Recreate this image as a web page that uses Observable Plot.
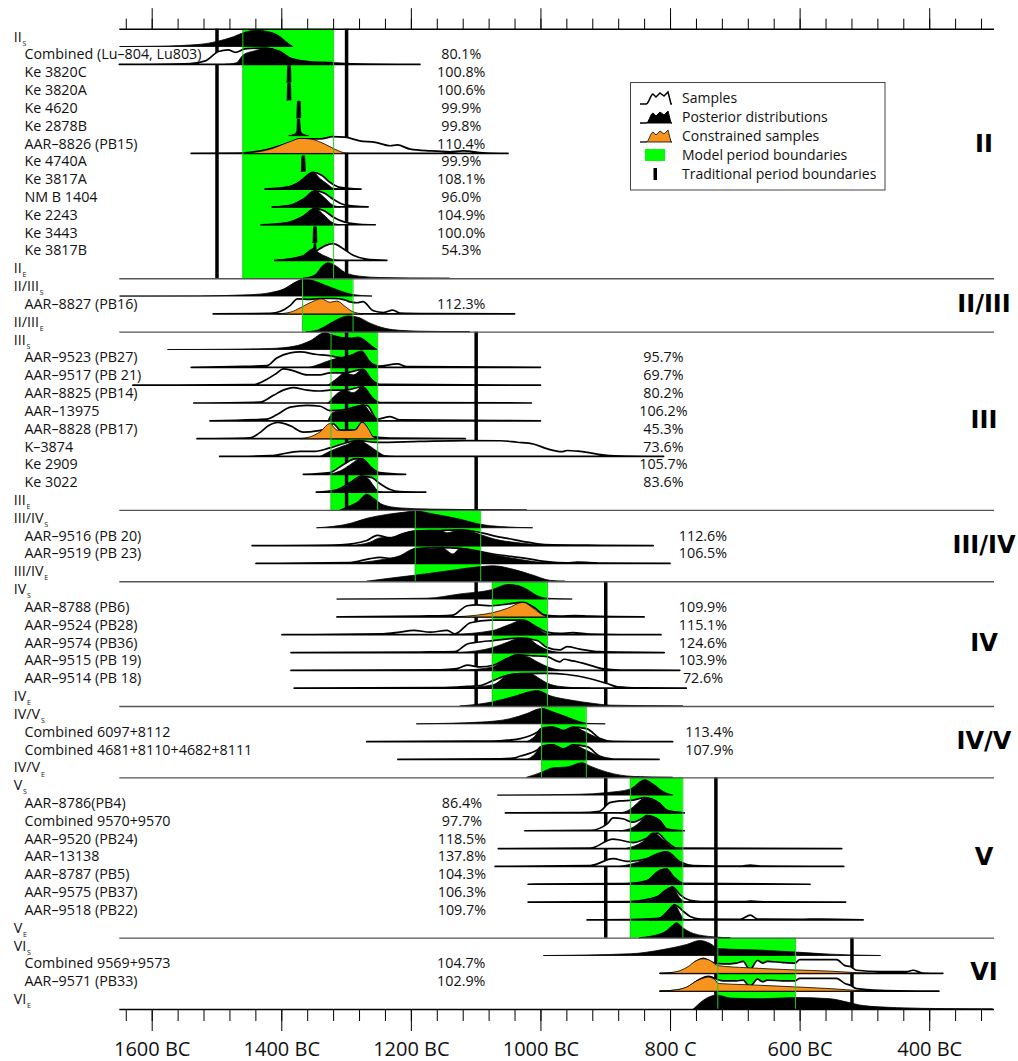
<!DOCTYPE html>
<html><head><meta charset="utf-8">
<script src="https://cdn.jsdelivr.net/npm/d3@7"></script>
<script src="https://cdn.jsdelivr.net/npm/@observablehq/plot@0.6"></script>
<style>
body{margin:0;background:#fff;}
#wrap{position:relative;width:1018px;height:1061px;}
#wrap svg{font-family:"Open Sans",sans-serif;}
</style></head><body><div id="wrap"></div>
<script>
// ---------- DATA ----------
const rowNames = [
 "II_S","Combined (Lu–804, Lu803)","Ke 3820C","Ke 3820A","Ke 4620","Ke 2878B","AAR–8826 (PB15)","Ke 4740A","Ke 3817A","NM B 1404","Ke 2243","Ke 3443","Ke 3817B","II_E",
 "II/III_S","AAR–8827 (PB16)","II/III_E",
 "III_S","AAR–9523 (PB27)","AAR–9517 (PB 21)","AAR–8825 (PB14)","AAR–13975","AAR–8828 (PB17)","K–3874","Ke 2909","Ke 3022","III_E",
 "III/IV_S","AAR–9516 (PB 20)","AAR–9519 (PB 23)","III/IV_E",
 "IV_S","AAR–8788 (PB6)","AAR–9524 (PB28)","AAR–9574 (PB36)","AAR–9515 (PB 19)","AAR–9514 (PB 18)","IV_E",
 "IV/V_S","Combined 6097+8112","Combined 4681+8110+4682+8111","IV/V_E",
 "V_S","AAR–8786(PB4)","Combined 9570+9570","AAR–9520 (PB24)","AAR–13138","AAR–8787 (PB5)","AAR–9575 (PB37)","AAR–9518 (PB22)","V_E",
 "VI_S","Combined 9569+9573","AAR–9571 (PB33)","VI_E"
];
const agreement = [
 "","80.1%","100.8%","100.6%","99.9%","99.8%","110.4%","99.9%","108.1%","96.0%","104.9%","100.0%","54.3%","",
 "","112.3%","",
 "","95.7%","69.7%","80.2%","106.2%","45.3%","73.6%","105.7%","83.6%","",
 "","112.6%","106.5%","",
 "","109.9%","115.1%","124.6%","103.9%","72.6%","",
 "","113.4%","107.9%","",
 "","86.4%","97.7%","118.5%","137.8%","104.3%","106.3%","109.7%","",
 "","104.7%","102.9%",""
];
const constrainedRows = ["AAR–8826 (PB15)","AAR–8827 (PB16)","AAR–8828 (PB17)","AAR–8788 (PB6)","Combined 9569+9573","AAR–9571 (PB33)"];

// posterior distributions, [year BC, relative density]
const posteriorCurves = [
 [[1649,0],[1590,0.02],[1525,0.13],[1499,0.3],[1474,0.57],[1459,0.8],[1438,0.95],[1422,0.88],[1407,0.7],[1397,0.43],[1390,0.2],[1382,0]],
 [[1486,0],[1469,0.1],[1459,0.55],[1440,0.8],[1422,0.95],[1410,0.85],[1397,0.6],[1382,0.3],[1364,0.15],[1340,0.05],[1320,0]],
 [[1391,0],[1390,0.96],[1386,0.96],[1385,0]],
 [[1391,0],[1390,0.96],[1386,0.96],[1385,0]],
 [[1376,0],[1375,0.97],[1371,0.97],[1370,0]],
 [[1388,0],[1380,0.08],[1376,0.25],[1375,0.97],[1372,0.97],[1370,0.25],[1366,0.08],[1358,0]],
 [[1459,0],[1417,0.25],[1386,0.7],[1371,0.88],[1356,0.85],[1333,0.55],[1320,0.3],[1304,0.05],[1294,0]],
 [[1369,0],[1368,0.9],[1364,0.9],[1363,0]],
 [[1425,0],[1394,0.1],[1371,0.45],[1351,0.98],[1340,0.6],[1329,0.3],[1320,0.05],[1312,0]],
 [[1414,0],[1386,0.1],[1366,0.45],[1348,0.94],[1335,0.6],[1320,0.1],[1309,0]],
 [[1431,0],[1394,0.1],[1366,0.5],[1348,0.96],[1335,0.6],[1320,0.1],[1309,0]],
 [[1351,0],[1350,0.92],[1346,0.92],[1345,0]],
 [[1407,0],[1379,0.15],[1366,0.3],[1356,0.6],[1350,0.75],[1349,1.0],[1347,1.0],[1346,0.6],[1340,0.4],[1329,0.2],[1320,0.05],[1309,0]],
 [[1366,0],[1348,0.2],[1337,0.7],[1328,0.9],[1317,0.75],[1302,0.35],[1279,0.12],[1248,0.04],[1201,0.01],[1140,0]],
 [[1649,0],[1525,0.01],[1448,0.08],[1417,0.2],[1394,0.45],[1379,0.8],[1366,0.98],[1353,0.92],[1333,0.65],[1309,0.3],[1291,0.1],[1260,0]],
 [[1407,0],[1386,0.1],[1371,0.35],[1353,0.7],[1338,0.88],[1325,0.68],[1314,0.75],[1302,0.45],[1291,0.15],[1274,0]],
 [[1361,0],[1348,0.05],[1333,0.3],[1317,0.65],[1297,0.92],[1282,0.85],[1263,0.5],[1240,0.2],[1217,0.08],[1186,0.03],[1109,0]],
 [[1575,0],[1479,0.02],[1417,0.06],[1379,0.2],[1356,0.5],[1333,0.98],[1317,0.8],[1305,0.7],[1291,0.68],[1282,0.73],[1271,0.55],[1260,0.2],[1252,0]],
 [[1356,0],[1340,0.2],[1320,0.47],[1294,0.7],[1276,0.96],[1263,0.35],[1252,0]],
 [[1328,0],[1314,0.4],[1302,0.72],[1289,0.6],[1274,0.92],[1263,0.45],[1252,0]],
 [[1328,0],[1302,0.75],[1289,0.6],[1274,0.95],[1263,0.5],[1252,0]],
 [[1328,0],[1320,0.5],[1302,0.6],[1289,0.75],[1274,0.95],[1263,0.5],[1252,0]],
 [[1371,0],[1356,0.1],[1340,0.4],[1325,0.88],[1314,0.5],[1302,0.47],[1286,0.5],[1275,0.95],[1266,0.6],[1258,0.1],[1250,0]],
 [[1340,0],[1325,0.3],[1298,0.7],[1282,0.93],[1263,0.6],[1252,0.3],[1240,0.05],[1225,0]],
 [[1325,0],[1309,0.2],[1294,0.55],[1282,0.85],[1276,0.9],[1263,0.5],[1252,0.1],[1240,0]],
 [[1325,0],[1302,0.3],[1286,0.7],[1276,0.94],[1266,0.8],[1258,0.4],[1250,0.05],[1244,0]],
 [[1309,0],[1294,0.25],[1283,0.45],[1268,0.92],[1258,0.7],[1243,0.3],[1217,0.12],[1170,0.05],[1021,0]],
 [[1345,0],[1294,0.25],[1268,0.55],[1237,0.78],[1212,0.9],[1194,0.98],[1165,0.8],[1124,0.5],[1093,0.2],[1062,0.07],[1012,0]],
 [[1294,0],[1263,0.2],[1248,0.45],[1225,0.5],[1209,0.75],[1194,0.85],[1155,0.88],[1144,0.75],[1124,0.92],[1093,0.65],[1073,0.4],[1031,0.15],[993,0.03],[970,0]],
 [[1294,0],[1248,0.2],[1217,0.45],[1194,0.85],[1165,0.85],[1152,0.92],[1135,0.55],[1124,0.88],[1093,0.65],[1042,0.3],[996,0.05],[970,0]],
 [[1268,0],[1217,0.25],[1194,0.35],[1144,0.6],[1093,0.85],[1073,0.9],[1042,0.7],[1011,0.35],[985,0.05],[962,0]],
 [[1314,0],[1175,0.05],[1124,0.3],[1075,0.55],[1050,0.85],[1036,0.8],[1020,0.55],[1005,0.2],[990,0.05],[951,0]],
 [[1135,0],[1098,0.1],[1073,0.25],[1051,0.5],[1027,0.85],[1011,0.5],[996,0.1],[985,0]],
 [[1140,0],[1073,0.25],[1051,0.55],[1027,0.85],[1011,0.55],[996,0.15],[985,0]],
 [[1124,0],[1073,0.3],[1051,0.6],[1031,0.85],[1020,0.85],[1005,0.45],[985,0.1],[970,0]],
 [[1124,0],[1073,0.2],[1051,0.7],[1036,0.9],[1020,0.8],[1005,0.5],[985,0.15],[970,0]],
 [[1124,0],[1073,0.2],[1051,0.75],[1036,0.85],[1016,0.85],[1001,0.55],[990,0.3],[970,0.1],[939,0.02],[923,0]],
 [[1124,0],[1073,0.25],[1042,0.55],[1005,0.9],[985,0.6],[954,0.35],[918,0.15],[893,0.05],[780,0]],
 [[1191,0],[1093,0.1],[1047,0.3],[1021,0.6],[1005,0.85],[998,0.9],[981,0.7],[959,0.4],[939,0.12],[928,0.03],[900,0]],
 [[1021,0],[1005,0.5],[1001,0.75],[981,0.85],[964,0.65],[950,0.85],[930,0.55],[911,0.2],[896,0]],
 [[1021,0],[1005,0.5],[1001,0.75],[981,0.85],[964,0.62],[950,0.85],[930,0.55],[911,0.2],[896,0]],
 [[1021,0],[998,0.3],[981,0.55],[959,0.6],[936,0.85],[923,0.65],[897,0.3],[857,0.05],[796,0]],
 [[1066,0],[939,0.05],[897,0.15],[862,0.35],[839,0.9],[826,0.65],[810,0.2],[795,0]],
 [[877,0],[862,0.2],[851,0.55],[839,0.9],[816,0.55],[805,0.15],[793,0]],
 [[877,0],[857,0.2],[847,0.5],[836,0.88],[816,0.6],[805,0.1],[793,0]],
 [[869,0],[842,0.4],[826,0.92],[810,0.5],[795,0.05],[784,0]],
 [[877,0],[842,0.35],[820,0.75],[805,0.88],[795,0.55],[781,0.15],[769,0]],
 [[862,0],[836,0.2],[816,0.8],[805,0.88],[795,0.4],[781,0.05],[769,0]],
 [[847,0],[820,0.3],[810,0.6],[796,0.88],[787,0.35],[779,0.05],[769,0]],
 [[831,0],[816,0.1],[805,0.45],[793,0.88],[784,0.35],[779,0.05],[769,0]],
 [[847,0],[810,0.3],[795,0.75],[790,0.88],[781,0.6],[764,0.25],[733,0.05],[707,0]],
 [[995,0],[862,0.1],[811,0.35],[774,0.65],[754,0.88],[738,0.7],[726,0.41],[657,0.31],[605,0.2],[553,0.08],[475,0]],
 [[816,0],[790,0.1],[774,0.35],[759,0.75],[749,0.85],[738,0.75],[726,0.45],[682,0.33],[606,0.2],[553,0.13],[502,0.02],[490,0]],
 [[816,0],[790,0.08],[774,0.25],[759,0.6],[741,0.82],[730,0.65],[726,0.45],[682,0.38],[606,0.25],[553,0.15],[502,0.02],[490,0]],
 [[764,0],[749,0.5],[736,0.76],[728,0.82],[707,0.64],[657,0.6],[606,0.67],[553,0.6],[527,0.41],[502,0.2],[450,0.08],[373,0.02],[302,0]]
];

// unmodelled samples, [year BC, relative density]
const sampleCurves = [
 null,
 [[1650,0],[1540,0.05],[1517,0.2],[1497,0.75],[1482,0.85],[1471,0.7],[1456,0.9],[1425,0.95],[1402,0.75],[1386,0.35],[1356,0.15],[1325,0.1],[1302,0.05],[1186,0]],
 null,null,null,null,
 [[1539,0],[1463,0.02],[1432,0.15],[1386,0.65],[1371,0.85],[1340,0.85],[1320,0.98],[1302,0.95],[1279,0.74],[1255,0.65],[1232,0.45],[1221,0.5],[1201,0.25],[1170,0.15],[1140,0.1],[1119,0.15],[1088,0.03],[1050,0]],
 null,
 [[1425,0],[1386,0.15],[1371,0.45],[1351,0.98],[1337,0.8],[1325,0.4],[1309,0.1],[1277,0]],
 [[1414,0],[1386,0.1],[1366,0.45],[1348,0.94],[1333,0.8],[1320,0.45],[1302,0.12],[1266,0]],
 [[1431,0],[1394,0.1],[1366,0.5],[1348,0.96],[1333,0.8],[1320,0.45],[1302,0.15],[1279,0.03],[1255,0]],
 null,
 [[1410,0],[1371,0.2],[1348,0.5],[1333,0.85],[1320,0.98],[1305,0.7],[1289,0.3],[1269,0.08],[1237,0]],
 null,
 null,
 [[1505,0],[1417,0.03],[1401,0.15],[1386,0.5],[1375,0.88],[1356,0.85],[1338,0.9],[1320,0.9],[1302,0.82],[1294,0.7],[1283,0.65],[1274,0.72],[1258,0.18],[1242,0.08],[1228,0.22],[1217,0.05],[1170,0.02],[1040,0]],
 null,
 null,
 [[1539,0],[1474,0.05],[1422,0.1],[1407,0.55],[1386,0.85],[1371,0.9],[1345,0.75],[1329,0.7],[1314,0.6],[1294,0.5],[1276,0.6],[1260,0.2],[1250,0.07],[1221,0.2],[1206,0.05],[1135,0.03],[1000,0]],
 [[1629,0],[1443,0.03],[1422,0.35],[1407,0.7],[1397,0.95],[1382,0.85],[1360,0.6],[1340,0.6],[1325,0.72],[1302,0.72],[1274,0.92],[1260,0.3],[1248,0.05],[1000,0]],
 [[1535,0],[1433,0.05],[1412,0.45],[1397,0.75],[1382,0.9],[1360,0.75],[1340,0.7],[1325,0.75],[1302,0.75],[1274,0.95],[1260,0.3],[1248,0.03],[1014,0]],
 [[1510,0],[1422,0.1],[1407,0.35],[1386,0.8],[1360,0.9],[1340,0.85],[1325,0.6],[1302,0.65],[1282,0.85],[1268,0.9],[1252,0.1],[1232,0.25],[1217,0.05],[1000,0]],
 [[1530,0],[1448,0.05],[1433,0.35],[1420,0.75],[1405,0.95],[1386,0.75],[1366,0.38],[1345,0.45],[1329,0.6],[1320,0.88],[1309,0.5],[1286,0.5],[1275,0.95],[1258,0.1],[1232,0.03],[1116,0]],
 [[1495,0],[1417,0.05],[1371,0.3],[1348,0.3],[1325,0.5],[1282,0.93],[1252,0.82],[1186,0.88],[1116,0.93],[1062,0.92],[1036,0.83],[1011,0.73],[989,0.44],[967,0.28],[959,0.35],[939,0.3],[893,0.05],[810,0]],
 [[1366,0],[1325,0.1],[1305,0.55],[1286,0.9],[1276,0.9],[1260,0.35],[1248,0.1],[1208,0]],
 [[1346,0],[1317,0.1],[1294,0.55],[1276,0.94],[1260,0.85],[1248,0.5],[1232,0.15],[1217,0.03],[1177,0]],
 null,
 null,
 [[1445,0],[1309,0.05],[1268,0.3],[1252,0.6],[1232,0.45],[1212,0.7],[1194,0.85],[1155,0.88],[1124,0.92],[1085,0.7],[1070,0.55],[1051,0.42],[1020,0.2],[993,0.06],[909,0.02],[826,0]],
 [[1439,0],[1294,0.05],[1263,0.28],[1248,0.35],[1228,0.28],[1206,0.55],[1194,0.85],[1152,0.92],[1124,0.88],[1073,0.55],[1020,0.28],[990,0.1],[959,0.03],[943,0.07],[909,0.02],[800,0]],
 null,
 null,
 [[1314,0],[1186,0.05],[1144,0.07],[1135,0.1],[1113,0.65],[1098,0.7],[1077,0.65],[1051,0.75],[1027,0.85],[1008,0.5],[993,0.1],[970,0.05],[947,0.08],[923,0.04],[840,0]],
 [[1399,0],[1243,0.05],[1217,0.15],[1196,0.25],[1170,0.15],[1144,0.25],[1132,0.05],[1108,0.7],[1077,0.85],[1027,0.85],[1008,0.5],[990,0.15],[970,0.08],[950,0.12],[923,0.04],[814,0]],
 [[1385,0],[1186,0.03],[1132,0.05],[1113,0.5],[1098,0.6],[1073,0.7],[1031,0.85],[1005,0.7],[990,0.3],[970,0.15],[959,0.35],[939,0.2],[909,0.05],[809,0]],
 [[1385,0],[1155,0.03],[1129,0.1],[1113,0.3],[1093,0.2],[1073,0.3],[1051,0.7],[1036,0.9],[1011,0.85],[990,0.8],[970,0.5],[964,0.65],[950,0.55],[928,0.35],[904,0.1],[877,0.02],[785,0]],
 [[1380,0],[1155,0.03],[1113,0.1],[1093,0.15],[1073,0.45],[1051,0.75],[1031,0.85],[990,0.86],[959,0.8],[923,0.55],[897,0.27],[881,0.08],[846,0.02],[775,0]],
 null,
 null,
 [[1268,0],[1108,0.03],[1062,0.05],[1051,0.09],[1031,0.18],[1005,0.55],[996,0.8],[981,0.85],[964,0.65],[950,0.85],[928,0.75],[909,0.2],[888,0.02],[796,0]],
 [[1220,0],[1062,0.03],[1042,0.08],[1031,0.2],[1005,0.55],[996,0.8],[981,0.85],[964,0.62],[950,0.85],[928,0.75],[909,0.2],[888,0.02],[817,0]],
 null,
 null,
 [[1054,0],[939,0.02],[909,0.1],[893,0.6],[877,0.7],[857,0.75],[839,0.9],[816,0.55],[805,0.15],[778,0]],
 [[1024,0],[923,0.02],[897,0.4],[888,0.75],[873,0.7],[857,0.5],[842,0.75],[836,0.88],[816,0.6],[805,0.1],[778,0]],
 [[1065,0],[923,0.03],[888,0.55],[877,0.5],[857,0.35],[836,0.6],[820,0.9],[805,0.4],[790,0.03],[535,0]],
 [[1070,0],[923,0.05],[888,0.45],[866,0.3],[836,0.45],[805,0.85],[784,0.25],[764,0.05],[692,0.02],[676,0.08],[661,0.02],[532,0]],
 [[1019,0],[888,0.03],[862,0.05],[836,0.2],[816,0.8],[805,0.88],[795,0.45],[779,0.05],[584,0]],
 [[1019,0],[862,0.03],[820,0.3],[810,0.6],[796,0.88],[784,0.4],[769,0.1],[753,0.03],[684,0.02],[676,0.06],[661,0.02],[529,0]],
 [[928,0],[847,0.03],[816,0.1],[805,0.45],[793,0.88],[781,0.55],[769,0.2],[753,0.05],[692,0.03],[676,0.28],[665,0.05],[600,0.03],[569,0.05],[502,0]],
 null,
 null,
 [[815,0],[790,0.05],[774,0.2],[759,0.72],[749,0.88],[734,0.63],[718,0.55],[697,0.6],[687,0.7],[677,0.2],[665,0.75],[657,0.6],[650,0.7],[626,0.63],[607,0.6],[600,0.8],[543,0.8],[530,0.45],[522,0.4],[512,0.18],[476,0.1],[435,0.1],[425,0.18],[410,0.02],[379,0]],
 [[815,0],[790,0.05],[774,0.2],[754,0.7],[741,0.86],[718,0.6],[697,0.6],[687,0.65],[677,0.25],[665,0.7],[657,0.55],[650,0.65],[626,0.6],[607,0.6],[600,0.75],[543,0.75],[530,0.45],[522,0.35],[512,0.15],[476,0.05],[385,0]],
 null
];

// sections
const sectionNames = ["II","II/III","III","III/IV","IV","IV/V","V","VI"];
const sectionStartRow = [0,14,17,27,31,38,42,51];
const sectionEndRow = [13,16,26,30,37,41,50,54];
const modelBoundaries = [[1460,1320],[1368,1290],[1324,1252],[1194,1093],[1075,990],[999,930],[862,781],[727,607]];
const traditionalBoundaries = [[1500,1300],[],[1300,1100],[],[1100,900],[],[900,730],[730,520]];
const agreementColumn = [1123,1123,811,750,750,740,1122,1123];
const sectionLabelRow = [6,15,21.5,28.5,34,39.5,46,52.5];

// axis
const minorTicks = d3.range(1640, 300, -40);
const majorTicks = [1600,1400,1200,1000,800,600,400];
const tickLabels = ["1600 BC","1400 BC","1200 BC","1000 BC","800 C","600 BC","400 BC"];

// ---------- BUILD ----------
const K = 0.96;
const ORANGE = "#f7941d", GREEN = "#00ff00";
const sectionOf = r => sectionStartRow.findIndex((s,i)=> r>=s && r<=sectionEndRow[i]);
const post = posteriorCurves.flatMap((c,row)=> c.map(([year,h])=>({row,year,h,fill: constrainedRows.includes(rowNames[row]) ? ORANGE : "black"})));
const samp = sampleCurves.flatMap((c,row)=> c ? c.map(([year,h])=>({row,year,h})) : []);
const sections = sectionNames.map((name,i)=>({name,start:sectionStartRow[i],end:sectionEndRow[i],m1:modelBoundaries[i][0],m2:modelBoundaries[i][1],labelRow:sectionLabelRow[i]}));
const trad = sectionNames.flatMap((n,i)=> traditionalBoundaries[i].map(year=>({year,y1:sectionStartRow[i]-1,y2:sectionEndRow[i]})));
const edges = sections.flatMap(s=>[{x:s.m1,y1:s.start-1,y2:s.end},{x:s.m2,y1:s.start-1,y2:s.end}]);
const rows = rowNames.map((name,row)=>({row,name,pct:agreement[row],ax:agreementColumn[sectionOf(row)],boundary:name.includes("_")}));
const sampleRows = rows.filter(d=>!d.boundary);
const boundaryRows = rows.filter(d=>d.boundary).map(d=>({...d,main:d.name.split("_")[0],sub:d.name.split("_")[1]}));

const LABEL_FONT = 14.3;
const ctx = document.createElement("canvas").getContext("2d");
ctx.font = LABEL_FONT + "px 'Open Sans'";
const subMarks = boundaryRows.map(d=>Plot.text([d],{y:"row",text:"sub",frameAnchor:"left",dx:-106+ctx.measureText(d.main).width+0.8,dy:-3.5,fontSize:7,textAnchor:"start",fill:"#111"}));

const chart = Plot.plot({
  width:1018, height:1061,
  marginLeft:119.3, marginRight:24, marginTop:28.7, marginBottom:52,
  x:{domain:[1650,300], axis:null},
  y:{domain:[-1,54], reverse:true, axis:null},
  color:{type:"identity"},
  style:{fontFamily:"'Open Sans', sans-serif", background:"white", overflow:"visible"},
  marks:[
    Plot.rect(sections,{x1:"m1",x2:"m2",y1:d=>d.start-1,y2:"end",fill:GREEN}),
    Plot.ruleX(trad,{x:"year",y1:"y1",y2:"y2",stroke:"black",strokeWidth:3.5}),
    Plot.areaY(samp,{x:"year",y1:"row",y2:d=>d.row-d.h*K,z:"row",fill:"white",stroke:"black",strokeWidth:1.7,curve:"monotone-x"}),
    Plot.areaY(post,{x:"year",y1:"row",y2:d=>d.row-d.h*K,z:"row",fill:"fill",stroke:"black",strokeWidth:0.8,curve:"monotone-x"}),
    Plot.ruleX(edges,{x:"x",y1:"y1",y2:"y2",stroke:"#1fcf1f",strokeWidth:1}),
    Plot.ruleY(sectionEndRow.slice(0,-1),{stroke:"#555",strokeWidth:1.3}),
    Plot.ruleY([-1,54],{stroke:"black",strokeWidth:1.4}),
    Plot.axisX({anchor:"top",ticks:minorTicks,tickSize:11,tickFormat:()=>"",stroke:"black"}),
    Plot.axisX({anchor:"top",ticks:majorTicks,tickSize:21.5,tickFormat:()=>"",stroke:"black"}),
    Plot.axisX({anchor:"bottom",ticks:minorTicks,tickSize:12,tickFormat:()=>"",stroke:"black"}),
    Plot.axisX({anchor:"bottom",ticks:majorTicks,tickSize:22,tickPadding:10,fontSize:20,fill:"#111",stroke:"black",tickFormat:d=>tickLabels[majorTicks.indexOf(d)]}),
    Plot.text(sampleRows,{y:"row",text:"name",frameAnchor:"left",dx:-95.3,dy:-10,textAnchor:"start",fontSize:LABEL_FONT,fill:"#111"}),
    Plot.text(boundaryRows,{y:"row",text:"main",frameAnchor:"left",dx:-106,dy:-10,textAnchor:"start",fontSize:LABEL_FONT,fill:"#111"}),
    ...subMarks,
    Plot.text(rows.filter(d=>d.pct),{x:"ax",y:"row",text:"pct",dy:-10,textAnchor:"middle",fontSize:LABEL_FONT,fill:"#111"}),
    Plot.text(sections,{y:"labelRow",dy:-10,text:"name",frameAnchor:"right",dx:-10.5,textAnchor:"middle",fontSize:24,fontWeight:"bold",fontFamily:"DejaVu Sans",fill:"#000"})
  ]
});
const wrap = document.getElementById("wrap");
wrap.appendChild(chart);

// legend overlay
const legendItems = ["Samples","Posterior distributions","Constrained samples","Model period boundaries","Traditional period boundaries"];
const NS = "http://www.w3.org/2000/svg";
const lg = document.createElementNS(NS,"svg");
lg.setAttribute("width",1018); lg.setAttribute("height",1061);
lg.setAttribute("style","position:absolute;left:0;top:0;pointer-events:none;font-family:'Open Sans',sans-serif");
const shape = (cy)=>`M640,${cy+6} L646,${cy+6} C649,${cy+6} 650,${cy-3} 653,${cy-4} L656,${cy-1} L660,${cy-5} L664,${cy-2} L668,${cy-6} L671,${cy+6} L672,${cy+6}`;
let html = `<rect x="630.5" y="82.5" width="254.5" height="107.5" fill="white" stroke="#444" stroke-width="1"/>`;
const ys = [98,117,136,155,174];
html += `<path d="${shape(ys[0])}" fill="none" stroke="black" stroke-width="1.5"/>`;
html += `<path d="${shape(ys[1])} Z" fill="black" stroke="black" stroke-width="1"/>`;
html += `<path d="${shape(ys[2])} Z" fill="${ORANGE}" stroke="black" stroke-width="0.8"/>`;
html += `<rect x="645" y="${ys[3]-6}" width="20" height="12" fill="${GREEN}"/>`;
html += `<rect x="653.5" y="${ys[4]-6}" width="3.5" height="12" fill="black"/>`;
legendItems.forEach((t,i)=>{ html += `<text x="682" y="${ys[i]}" dy="0.35em" font-size="14" fill="#111">${t}</text>`; });
lg.innerHTML = html;
wrap.appendChild(lg);
</script></body></html>
